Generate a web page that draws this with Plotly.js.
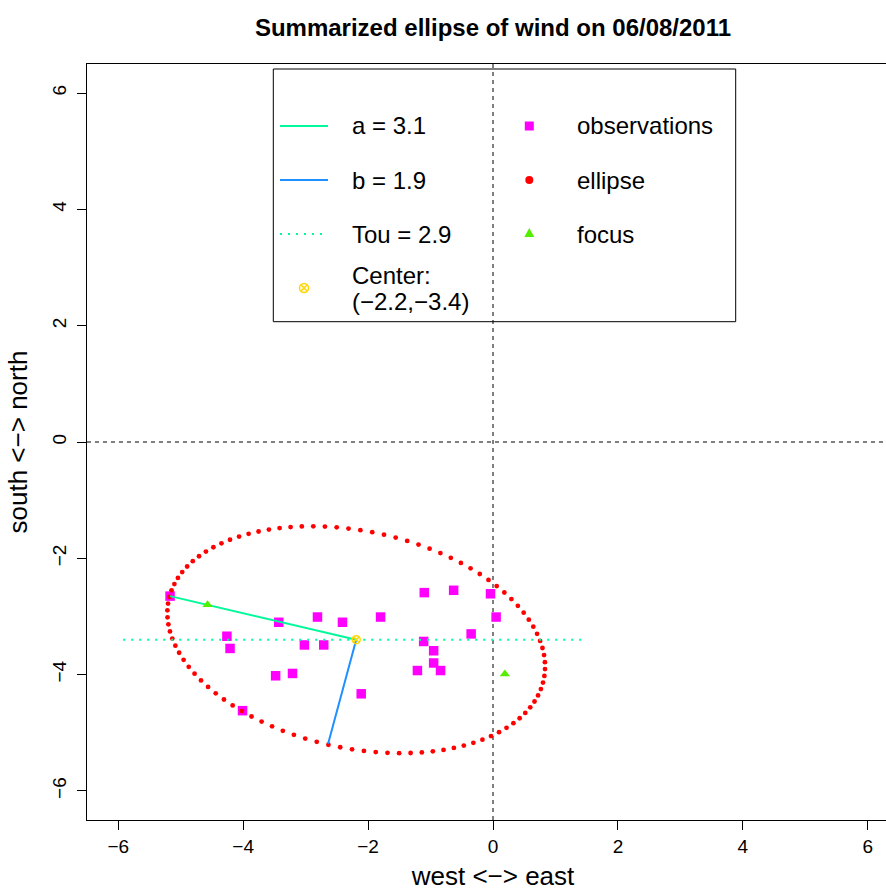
<!DOCTYPE html>
<html><head><meta charset="utf-8">
<script src="https://cdn.plot.ly/plotly-3.0.1.min.js"></script>
<style>html,body{margin:0;padding:0;overflow:hidden;background:#fff}#chart{width:912px;height:891px}</style>
</head><body><div id="chart"></div>
<script>
// ---- data ----
const obsX = [-5.17,-3.43,-4.26,-4.21,-2.81,-2.41,-1.80,-3.02,-2.71,-3.48,-3.21,-4.01,-2.11,-1.10,-0.63,-0.04,0.05,-0.35,-1.11,-0.95,-0.95,-0.84,-1.21];
const obsY = [-2.65,-3.10,-3.34,-3.55,-3.01,-3.10,-3.01,-3.49,-3.49,-4.02,-3.98,-4.62,-4.33,-2.59,-2.55,-2.61,-3.01,-3.30,-3.43,-3.59,-3.80,-3.93,-3.93];
// ellipse summary (legend: a = 3.1, b = 1.9, Tou = 2.9, center (-2.2,-3.4))
const centerX = -2.19, centerY = -3.40;
const aLen = 3.08, bLen = 1.86, tou = 2.90;
const nEllipse = 100;
const focusX = [-4.57, 0.19];
const focusY = [-2.80, -3.99];
const aLineX = [centerX, -5.17], aLineY = [centerY, -2.65];
const bLineX = [centerX, -2.64], bLineY = [centerY, -5.19];
const touX = [-5.92, 1.44], touY = [centerY, centerY];
const tickVals = [-6,-4,-2,0,2,4,6];
const legendLeft = ['a = 3.1','b = 1.9','Tou = 2.9','Center:','(\u22122.2,\u22123.4)'];
const legendRight = ['observations','ellipse','focus'];

// ellipse points from its parameters
const ellT = Array.from({length:nEllipse}, (_,i)=>2*Math.PI*i/nEllipse);
const ellX = ellT.map(t=>centerX + aLen*Math.cos(t)*Math.cos(tou) - bLen*Math.sin(t)*Math.sin(tou));
const ellY = ellT.map(t=>centerY + aLen*Math.cos(t)*Math.sin(tou) + bLen*Math.sin(t)*Math.cos(tou));

// ---- styles ----
const FONT = 'Liberation Sans, Arial, Helvetica, sans-serif';
const cObs = '#FF00FF', cEll = '#FF0000', cA = '#00FA9A', cB = '#1E90FF', cFoc = '#55EE00', cCen = '#FFD700';
const W = 912, H = 891, ML = 87, MR = 13, MT = 64, MB = 71;
const PW = W-ML-MR, PH = H-MT-MB;
const px = v => (v-ML)/PW;
const py = v => 1-(v-MT)/PH;

const traces = [
  {x:obsX, y:obsY, type:'scatter', mode:'markers', marker:{symbol:'square', size:9.5, color:cObs}, hoverinfo:'x+y'},
  {x:ellX, y:ellY, type:'scatter', mode:'markers', marker:{symbol:'circle', size:4.8, color:cEll}},
  {x:touX, y:touY, type:'scatter', mode:'lines', line:{color:cA, width:2, dash:'2px,6px'}},
  {x:aLineX, y:aLineY, type:'scatter', mode:'lines', line:{color:cA, width:2}},
  {x:bLineX, y:bLineY, type:'scatter', mode:'lines', line:{color:cB, width:2}},
  {x:focusX, y:focusY, type:'scatter', mode:'markers', marker:{symbol:'triangle-up', size:9, color:cFoc}},
  {x:[centerX], y:[centerY], type:'scatter', mode:'markers', marker:{symbol:'circle-x-open', size:8, color:cCen, line:{width:1.5, color:cCen}}}
];

const shapes = [
  {type:'line', xref:'x', yref:'paper', x0:0, x1:0, y0:0, y1:1, layer:'below', line:{color:'black', width:1, dash:'4px,4px'}},
  {type:'line', xref:'paper', yref:'y', x0:0, x1:1, y0:0, y1:0, layer:'below', line:{color:'black', width:1, dash:'4px,4px'}},
  // legend box
  {type:'rect', xref:'paper', yref:'paper', x0:px(273.3), x1:px(735.7), y0:py(321.7), y1:py(69), line:{color:'black', width:1}, fillcolor:'rgba(0,0,0,0)'}
];
const rowY = [126, 180, 234];
const keyX0 = 280, keyX1 = 328, keyMX = 529.3;
shapes.push({type:'line', xref:'paper', yref:'paper', x0:px(keyX0), x1:px(keyX1), y0:py(rowY[0]), y1:py(rowY[0]), line:{color:cA, width:2}});
shapes.push({type:'line', xref:'paper', yref:'paper', x0:px(keyX0), x1:px(keyX1), y0:py(rowY[1]), y1:py(rowY[1]), line:{color:cB, width:2}});
shapes.push({type:'line', xref:'paper', yref:'paper', x0:px(keyX0), x1:px(keyX1), y0:py(rowY[2]), y1:py(rowY[2]), line:{color:cA, width:2, dash:'2px,6px'}});
function pshape(type, ax, ay, opts){
  return Object.assign({type:type, xref:'paper', yref:'paper', xsizemode:'pixel', ysizemode:'pixel', xanchor:px(ax), yanchor:py(ay)}, opts);
}
shapes.push(pshape('rect', keyMX, rowY[0], {x0:-4.5, x1:4.5, y0:-4.5, y1:4.5, fillcolor:cObs, line:{width:0}}));
shapes.push(pshape('circle', keyMX, rowY[1], {x0:-4, x1:4, y0:-4, y1:4, fillcolor:cEll, line:{width:0}}));
shapes.push(pshape('path', keyMX, rowY[2], {path:'M-5,-3 L5,-3 L0,6 Z', fillcolor:cFoc, line:{width:0}}));
shapes.push(pshape('circle', 304, 288, {x0:-4.5, x1:4.5, y0:-4.5, y1:4.5, line:{color:cCen, width:1.5}}));
shapes.push(pshape('path', 304, 288, {path:'M-3.2,-3.2L3.2,3.2M-3.2,3.2L3.2,-3.2', line:{color:cCen, width:1.5}}));

const annotations = [];
const legFont = {family:FONT, size:24, color:'black'};
[126,180,234,275,301.7].forEach((y,i)=>annotations.push({xref:'paper', yref:'paper', x:px(350), y:py(y), xanchor:'left', yanchor:'middle', text:legendLeft[i], showarrow:false, font:legFont}));
rowY.forEach((y,i)=>annotations.push({xref:'paper', yref:'paper', x:px(575), y:py(y), xanchor:'left', yanchor:'middle', text:legendRight[i], showarrow:false, font:legFont}));

const axisCommon = {
  range:[-6.5,6.5], tickmode:'array', tickvals:tickVals, ticks:'outside', ticklen:9, tickwidth:1, tickcolor:'black',
  showline:true, linecolor:'black', linewidth:1, mirror:true, showgrid:false, zeroline:false,
  tickfont:{family:FONT, size:19, color:'black'}, fixedrange:true
};
const layout = {
  width:W, height:H, margin:{l:ML, r:MR, t:MT, b:MB, pad:0},
  paper_bgcolor:'white', plot_bgcolor:'white', showlegend:false,
  title:{text:'<b>Summarized ellipse of wind on 06/08/2011</b>', x:0.5, xref:'paper', y:1-28/H, yref:'container', yanchor:'middle', font:{family:FONT, size:24, color:'black'}},
  xaxis:Object.assign({}, axisCommon, {title:{text:'west <\u2212> east', font:{family:FONT, size:26, color:'black'}, standoff:18}}),
  yaxis:Object.assign({}, axisCommon, {tickangle:-90, ticklabelstandoff:3, title:{text:'south <\u2212> north', font:{family:FONT, size:26, color:'black'}, standoff:14}}),
  shapes:shapes, annotations:annotations
};
Plotly.newPlot('chart', traces, layout, {displayModeBar:false, staticPlot:true});
</script></body></html>
